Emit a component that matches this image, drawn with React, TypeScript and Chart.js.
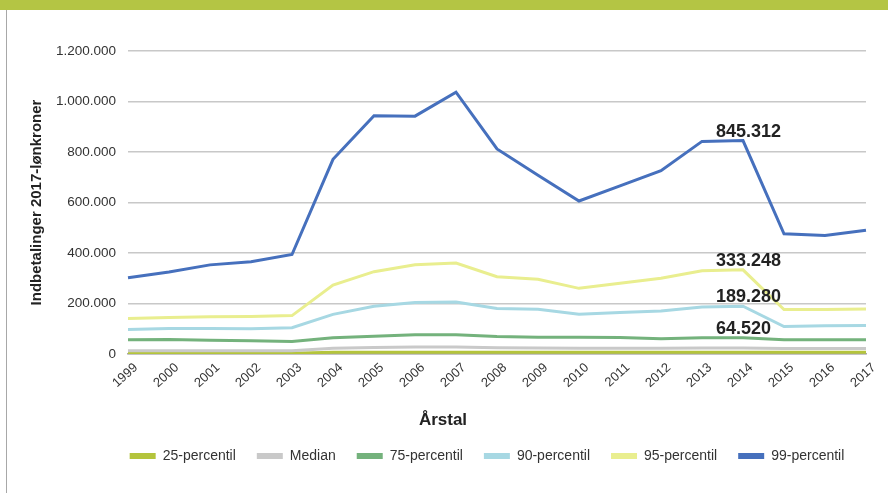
import React, { useEffect, useRef } from "react";
import { Chart, registerables } from "chart.js";

Chart.register(...registerables);

const years = ["1999","2000","2001","2002","2003","2004","2005","2006","2007","2008","2009","2010","2011","2012","2013","2014","2015","2016","2017"];
const p25 = [3000,3000,3000,3000,3000,7000,7000,7000,7000,7000,7000,7000,7000,7000,7000,7000,7000,7000,7000];
const median = [13000,13000,13000,13000,13000,23000,26000,28000,28000,25000,24000,23000,23000,23000,24000,24000,22000,22000,22000];
const p75 = [56000,57000,54000,52000,50000,64000,70000,76000,76000,69000,66000,66000,65000,60000,64000,64520,56000,56000,56000];
const p90 = [97000,101000,101000,100000,104000,157000,189000,204000,206000,180000,177000,157000,164000,170000,186000,189280,109000,112000,113000];
const p95 = [141000,145000,148000,149000,152000,273000,326000,353000,360000,306000,296000,260000,280000,300000,330000,333248,176000,176000,178000];
const p99 = [302000,325000,353000,365000,394000,771000,944000,942000,1037000,812000,708000,606000,666000,726000,842000,845312,476000,469000,490000];

const seriesNames = ["25-percentil","Median","75-percentil","90-percentil","95-percentil","99-percentil"];
const seriesColors = ["#b4c43c","#c9c9c9","#74b27c","#a7d8e3","#e9ee8f","#4670bd"];
const labelIndex = 15;
const labeledSeries = [2,3,4,5];

const fmt = (v: number) => String(Math.round(v)).replace(/\B(?=(\d{3})+(?!\d))/g, ".");

const valueLabels = {
  id: "valueLabels",
  afterDatasetsDraw(chart: any) {
    const ctx = chart.ctx;
    ctx.save();
    ctx.font = "bold 18px 'Liberation Sans', Arial, sans-serif";
    ctx.fillStyle = "#222222";
    ctx.textAlign = "left";
    ctx.textBaseline = "alphabetic";
    labeledSeries.forEach((di) => {
      const meta = chart.getDatasetMeta(di);
      const pt = meta.data[labelIndex];
      const v = chart.data.datasets[di].data[labelIndex];
      ctx.fillText(fmt(v), pt.x - 27, pt.y - 4);
    });
    ctx.restore();
  },
};

const xTitle = {
  id: "xTitle",
  afterDraw(chart: any) {
    const ctx = chart.ctx;
    ctx.save();
    ctx.font = "bold 17px 'Liberation Sans', Arial, sans-serif";
    ctx.fillStyle = "#222222";
    ctx.textAlign = "center";
    ctx.textBaseline = "alphabetic";
    ctx.fillText("Årstal", 443, 425);
    ctx.restore();
  },
};

// shift the legend so that it is centred where the reference legend is
const legendShift = {
  id: "legendShift",
  afterLayout(chart: any) {
    const lg = chart.legend;
    if (lg) {
      lg.left += 54;
      lg.right += 54;
    }
  },
};

export default function App() {
  const ref = useRef<HTMLCanvasElement | null>(null);
  useEffect(() => {
    if (!ref.current) return;
    const all = [p25, median, p75, p90, p95, p99];
    const chart = new Chart(ref.current, {
      type: "line",
      data: {
        labels: years,
        datasets: all.map((d, i) => ({
          label: seriesNames[i],
          data: d,
          borderColor: seriesColors[i],
          backgroundColor: seriesColors[i],
          borderWidth: 3,
          pointRadius: 0,
          tension: 0,
          fill: false,
          order: 6 - i,
        })),
      },
      options: {
        animation: false,
        responsive: false,
        maintainAspectRatio: false,
        layout: { padding: { left: 0, right: 22, top: 51, bottom: 20 } },
        plugins: {
          legend: {
            position: "bottom",
            labels: {
              boxWidth: 26,
              boxHeight: 6,
              padding: 21,
              color: "#333333",
              font: { size: 14, family: "'Liberation Sans', Arial, sans-serif" },
              generateLabels(c: any) {
                return c.data.datasets.map((ds: any, i: number) => ({
                  text: ds.label,
                  fillStyle: ds.borderColor,
                  strokeStyle: ds.borderColor,
                  lineWidth: 0,
                  hidden: false,
                  datasetIndex: i,
                  fontColor: "#333333",
                }));
              },
            },
          },
          tooltip: { enabled: false },
        },
        scales: {
          x: {
            grid: { display: false, drawTicks: false },
            border: { display: true, color: "#a6a6a6", width: 1.5 },
            ticks: {
              minRotation: 42,
              maxRotation: 42,
              padding: 6,
              labelOffset: 8,
              color: "#333333",
              font: { size: 13, family: "'Liberation Sans', Arial, sans-serif" },
            },
            afterFit(scale: any) {
              scale.height = 74;
            },
          },
          y: {
            min: 0,
            max: 1200000,
            ticks: {
              stepSize: 200000,
              padding: 12,
              color: "#333333",
              font: { size: 13.5, family: "'Liberation Sans', Arial, sans-serif" },
              callback: (v: any) => fmt(Number(v)),
            },
            grid: { color: "#c8c8c8", lineWidth: 1.5, drawTicks: false },
            border: { display: false },
            title: {
              display: true,
              text: "Indbetalinger 2017-lønkroner",
              color: "#222222",
              font: { size: 15, weight: "bold", family: "'Liberation Sans', Arial, sans-serif" },
              padding: { top: 28, bottom: 0 },
            },
            afterFit(scale: any) {
              scale.width = 128;
            },
          },
        },
      },
      plugins: [valueLabels, xTitle, legendShift],
    });
    return () => chart.destroy();
  }, []);

  return (
    <div style={{ position: "absolute", left: 0, top: 0, width: 888, height: 493, background: "#ffffff", overflow: "hidden" }}>
      <div style={{ position: "absolute", left: 0, top: 0, width: 888, height: 10, background: "#b4c544" }} />
      <div style={{ position: "absolute", left: 6, top: 10, width: 1, height: 483, background: "#a8a8a8" }} />
      <canvas ref={ref} width={888} height={493} style={{ position: "absolute", left: 0, top: 0, width: 888, height: 493 }} />
    </div>
  );
}
